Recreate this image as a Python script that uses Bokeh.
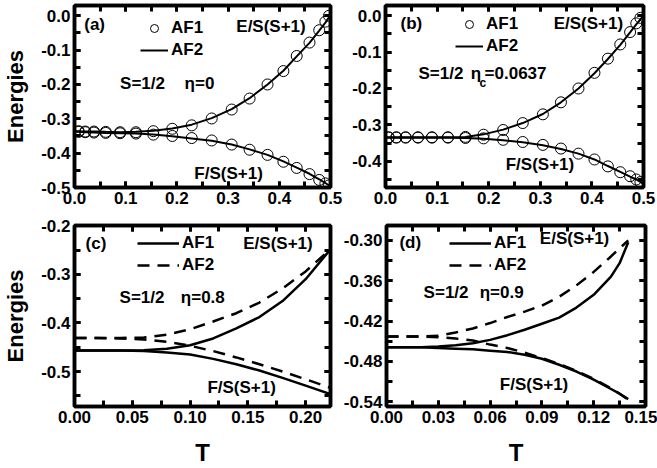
from bokeh.plotting import figure
from bokeh.models import (Range1d, LinearAxis, SingleIntervalTicker, NumeralTickFormatter,
                          Label, Legend, LegendItem)
from bokeh.layouts import column, row
from bokeh.embed import file_html
from bokeh.resources import INLINE

FONT = "Liberation Sans"

# ---------------- data ----------------
# panel (a): S=1/2, eta=0
T_a = [0.008, 0.021, 0.038, 0.061, 0.089, 0.12, 0.154, 0.191, 0.229, 0.268, 0.307,
       0.342, 0.377, 0.408, 0.434, 0.459, 0.478, 0.49, 0.497]
E_a_af1 = [-0.336, -0.337, -0.337, -0.338, -0.339, -0.339, -0.336, -0.329, -0.319, -0.299,
           -0.273, -0.241, -0.200, -0.161, -0.117, -0.078, -0.042, -0.017, 0.0]
F_a_af1 = [-0.338, -0.339, -0.340, -0.341, -0.342, -0.343, -0.346, -0.350, -0.356, -0.363,
           -0.375, -0.390, -0.405, -0.425, -0.443, -0.461, -0.478, -0.488, -0.494]
T_a_line = [0.0, 0.021, 0.038, 0.061, 0.089, 0.12, 0.154, 0.191, 0.229, 0.268, 0.307,
            0.342, 0.377, 0.408, 0.434, 0.459, 0.478, 0.49, 0.5]
E_a_af2 = [-0.336, -0.337, -0.337, -0.338, -0.339, -0.338, -0.335, -0.328, -0.317, -0.298,
           -0.272, -0.240, -0.200, -0.160, -0.118, -0.079, -0.043, -0.020, 0.002]
F_a_af2 = [-0.337, -0.339, -0.340, -0.341, -0.342, -0.343, -0.346, -0.351, -0.357, -0.364,
           -0.375, -0.389, -0.405, -0.424, -0.442, -0.460, -0.476, -0.487, -0.497]

# panel (b): S=1/2, eta_c=0.0637
T_b = [0.006, 0.021, 0.039, 0.063, 0.09, 0.121, 0.155, 0.19, 0.228, 0.266, 0.305,
       0.34, 0.374, 0.405, 0.431, 0.455, 0.474, 0.486, 0.494]
E_b_af1 = [-0.334, -0.334, -0.334, -0.334, -0.334, -0.334, -0.333, -0.327, -0.314, -0.295,
           -0.271, -0.238, -0.200, -0.157, -0.118, -0.079, -0.045, -0.021, -0.006]
F_b_af1 = [-0.335, -0.335, -0.335, -0.335, -0.335, -0.335, -0.336, -0.337, -0.341, -0.347,
           -0.355, -0.365, -0.379, -0.395, -0.414, -0.430, -0.441, -0.450, -0.457]
T_b_line = [0.0, 0.021, 0.039, 0.063, 0.09, 0.121, 0.155, 0.19, 0.228, 0.266, 0.305,
            0.34, 0.374, 0.405, 0.431, 0.455, 0.474, 0.486, 0.5]
E_b_af2 = [-0.334, -0.334, -0.334, -0.334, -0.334, -0.334, -0.333, -0.326, -0.313, -0.295,
           -0.270, -0.238, -0.200, -0.158, -0.119, -0.080, -0.046, -0.024, 0.0]
F_b_af2 = [-0.335, -0.335, -0.335, -0.335, -0.335, -0.335, -0.336, -0.338, -0.342, -0.348,
           -0.356, -0.366, -0.379, -0.395, -0.413, -0.429, -0.442, -0.450, -0.462]

# panel (c): S=1/2, eta=0.8
T_c = [0.0, 0.02, 0.04, 0.06, 0.08, 0.10, 0.12, 0.14, 0.16, 0.18, 0.20, 0.222]
E_c_af1 = [-0.457, -0.457, -0.457, -0.456, -0.453, -0.446, -0.432, -0.411, -0.388, -0.355, -0.310, -0.247]
F_c_af1 = [-0.457, -0.457, -0.457, -0.458, -0.461, -0.465, -0.474, -0.485, -0.498, -0.513, -0.529, -0.547]
E_c_af2 = [-0.431, -0.431, -0.431, -0.430, -0.424, -0.413, -0.397, -0.380, -0.358, -0.329, -0.294, -0.247]
F_c_af2 = [-0.431, -0.431, -0.432, -0.434, -0.439, -0.447, -0.458, -0.471, -0.485, -0.500, -0.516, -0.534]

# panel (d): S=1/2, eta=0.9
T_d = [0.0, 0.01, 0.02, 0.03, 0.04, 0.05, 0.06, 0.07, 0.08, 0.09, 0.10, 0.11, 0.12, 0.13, 0.135, 0.14]
E_d_af1 = [-0.459, -0.459, -0.459, -0.458, -0.456, -0.453, -0.448, -0.441, -0.433, -0.424, -0.415,
           -0.400, -0.381, -0.354, -0.334, -0.303]
F_d_af1 = [-0.459, -0.459, -0.459, -0.460, -0.461, -0.462, -0.464, -0.466, -0.470, -0.476, -0.485,
           -0.495, -0.507, -0.521, -0.528, -0.536]
E_d_af2 = [-0.443, -0.443, -0.443, -0.442, -0.437, -0.431, -0.423, -0.414, -0.406, -0.397, -0.384,
           -0.367, -0.347, -0.324, -0.312, -0.300]
F_d_af2 = [-0.443, -0.443, -0.443, -0.444, -0.446, -0.449, -0.455, -0.460, -0.467, -0.475, -0.484,
           -0.494, -0.506, -0.520, -0.528, -0.537]


def style_axis(ax, interval, fmt, labels=True):
    ax.ticker = SingleIntervalTicker(interval=interval, num_minor_ticks=2)
    ax.formatter = NumeralTickFormatter(format=fmt)
    ax.axis_line_width = 3.5
    ax.axis_line_color = "black"
    ax.major_tick_in = 6
    ax.major_tick_out = 0
    ax.minor_tick_in = 6
    ax.minor_tick_out = 0
    ax.major_tick_line_width = 3
    ax.minor_tick_line_width = 3
    ax.major_tick_line_color = "black"
    ax.minor_tick_line_color = "black"
    ax.major_label_text_font = FONT
    ax.major_label_text_font_style = "bold"
    if labels:
        ax.major_label_text_color = "black"
        ax.major_label_text_font_size = "17px"
        ax.major_label_standoff = 4
    else:
        ax.major_label_text_color = None
        ax.major_label_text_font_size = "1px"
        ax.major_label_standoff = 0


def make_fig(width, height, xr, yr, xint, yint, xfmt, yfmt, mbl, mbr, mbt, mbb):
    p = figure(width=width, height=height, x_range=Range1d(*xr), y_range=Range1d(*yr),
               output_backend="svg", toolbar_location=None,
               x_axis_location=None, y_axis_location=None,
               min_border_left=mbl, min_border_right=mbr,
               min_border_top=mbt, min_border_bottom=mbb)
    p.xgrid.visible = False
    p.ygrid.visible = False
    p.outline_line_width = 3.5
    p.outline_line_color = "black"
    p.outline_line_alpha = 1
    p.background_fill_color = "white"
    p.border_fill_color = "white"
    bottom = LinearAxis()
    style_axis(bottom, xint, xfmt)
    p.add_layout(bottom, "below")
    left = LinearAxis()
    style_axis(left, yint, yfmt)
    p.add_layout(left, "left")
    top = LinearAxis()
    style_axis(top, xint, xfmt, labels=False)
    p.add_layout(top, "above")
    right = LinearAxis()
    style_axis(right, yint, yfmt, labels=False)
    p.add_layout(right, "right")
    return p, bottom, left


def set_label(ax, text, size, standoff):
    ax.axis_label = text
    ax.axis_label_text_font = FONT
    ax.axis_label_text_font_style = "bold"
    ax.axis_label_text_font_size = size
    ax.axis_label_text_color = "black"
    ax.axis_label_standoff = standoff


def add_label(p, x, y, text, size="17px", bold=True):
    p.add_layout(Label(x=x, y=y, text=text, text_font=FONT,
                       text_font_style="bold" if bold else "normal",
                       text_font_size=size, text_baseline="middle", text_align="left",
                       text_color="black"))


def add_legend(p, items, loc, gw):
    lg = Legend(items=items, location=loc, glyph_width=gw, glyph_height=20,
                label_height=20, label_standoff=3, spacing=2, padding=0, margin=0,
                border_line_color=None, background_fill_alpha=0,
                label_text_font=FONT, label_text_font_style="bold",
                label_text_font_size="17px", label_text_color="black")
    p.add_layout(lg)


# ---------------- panel (a) ----------------
p1, b1, l1 = make_fig(345, 215, (0, 0.5), (-0.5, 0.03), 0.1, 0.1, "0.0", "0.0", 72, 15, 5, 28)
set_label(l1, "Energies", "22px", 10)
ra1 = p1.scatter(T_a, E_a_af1, marker="circle", size=11, fill_color=None, line_color="black", line_width=1)
p1.scatter(T_a, F_a_af1, marker="circle", size=11, fill_color=None, line_color="black", line_width=1)
ra2 = p1.line(T_a_line, E_a_af2, line_color="black", line_width=2)
p1.line(T_a_line, F_a_af2, line_color="black", line_width=2)
add_legend(p1, [LegendItem(label="AF1", renderers=[ra1]), LegendItem(label="AF2", renderers=[ra2])], (66, 127), 28)
add_label(p1, 0.019, -0.026, "(a)")
add_label(p1, 0.316, -0.03, "E/S(S+1)")
add_label(p1, 0.089, -0.198, "S=1/2")
add_label(p1, 0.215, -0.198, "η=0")
add_label(p1, 0.234, -0.458, "F/S(S+1)")

# ---------------- panel (b) ----------------
p2, b2, l2 = make_fig(312, 215, (0, 0.5), (-0.472, 0.028), 0.1, 0.1, "0.0", "0.0", 40, 14, 5, 28)
rb1 = p2.scatter(T_b, E_b_af1, marker="circle", size=11, fill_color=None, line_color="black", line_width=1)
p2.scatter(T_b, F_b_af1, marker="circle", size=11, fill_color=None, line_color="black", line_width=1)
rb2 = p2.line(T_b_line, E_b_af2, line_color="black", line_width=2)
p2.line(T_b_line, F_b_af2, line_color="black", line_width=2)
add_legend(p2, [LegendItem(label="AF1", renderers=[rb1]), LegendItem(label="AF2", renderers=[rb2])], (70, 131), 28)
add_label(p2, 0.029, -0.022, "(b)")
add_label(p2, 0.326, -0.022, "E/S(S+1)")
add_label(p2, 0.064, -0.158, "S=1/2")
add_label(p2, 0.165, -0.158, "η")
add_label(p2, 0.182, -0.185, "c", size="12px")
add_label(p2, 0.192, -0.158, "=0.0637")
add_label(p2, 0.233, -0.409, "F/S(S+1)")

# ---------------- panel (c) ----------------
p3, b3, l3 = make_fig(340, 253, (0, 0.2215), (-0.572, -0.1995), 0.05, 0.1, "0.00", "0.0", 72, 10, 10, 61)
set_label(l3, "Energies", "22px", 10)
set_label(b3, "T", "24px", 13)
rc1 = p3.line(T_c, E_c_af1, line_color="black", line_width=2.5)
p3.line(T_c, F_c_af1, line_color="black", line_width=2.5)
rc2 = p3.line(T_c, E_c_af2, line_color="black", line_width=2.5, line_dash="12 8")
p3.line(T_c, F_c_af2, line_color="black", line_width=2.5, line_dash="12 8")
add_legend(p3, [LegendItem(label="AF1", renderers=[rc1]), LegendItem(label="AF2", renderers=[rc2])], (63, 131), 42)
add_label(p3, 0.0096, -0.237, "(c)")
add_label(p3, 0.146, -0.237, "E/S(S+1)")
add_label(p3, 0.039, -0.347, "S=1/2")
add_label(p3, 0.092, -0.347, "η=0.8")
add_label(p3, 0.115, -0.533, "F/S(S+1)")

# ---------------- panel (d) ----------------
p4, b4, l4 = make_fig(317, 253, (0, 0.15), (-0.547, -0.278), 0.03, 0.06, "0.00", "0.00", 43, 12, 10, 61)
set_label(b4, "T", "24px", 13)
rd1 = p4.line(T_d, E_d_af1, line_color="black", line_width=2.5)
p4.line(T_d, F_d_af1, line_color="black", line_width=2.5)
rd2 = p4.line(T_d, E_d_af2, line_color="black", line_width=2.5, line_dash="12 8")
p4.line(T_d, F_d_af2, line_color="black", line_width=2.5, line_dash="12 8")
add_legend(p4, [LegendItem(label="AF1", renderers=[rd1]), LegendItem(label="AF2", renderers=[rd2])], (63, 131), 42)
add_label(p4, 0.0075, -0.303, "(d)")
add_label(p4, 0.0888, -0.298, "E/S(S+1)")
add_label(p4, 0.0215, -0.377, "S=1/2")
add_label(p4, 0.054, -0.377, "η=0.9")
add_label(p4, 0.0656, -0.514, "F/S(S+1)")

layout = column(row(p1, p2), row(p3, p4))
open("out.html", "w").write(file_html(layout, INLINE))
